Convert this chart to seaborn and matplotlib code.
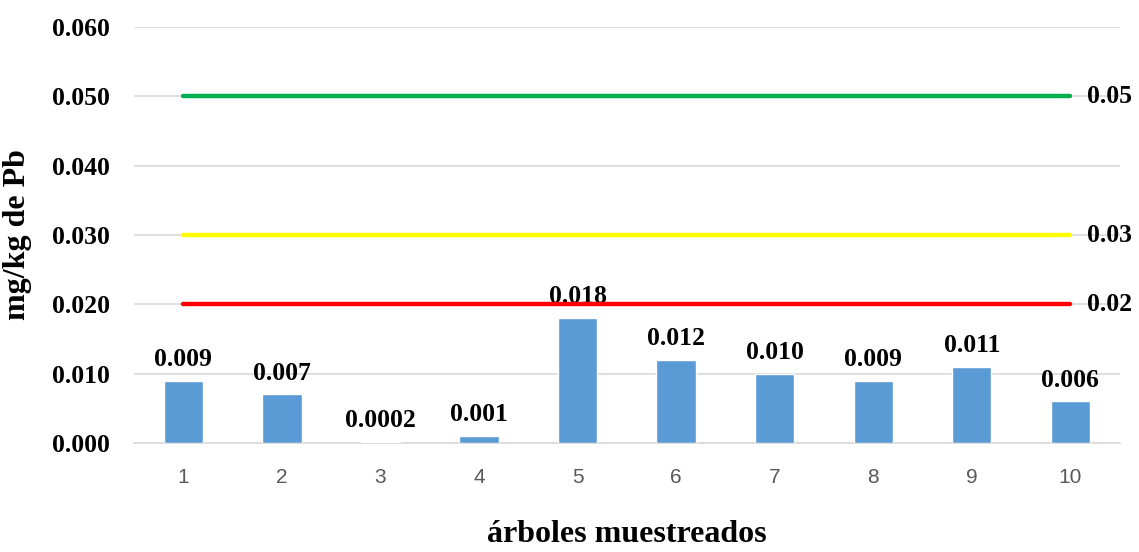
import pandas as pd
import seaborn as sns
import matplotlib.pyplot as plt

trees = ["1", "2", "3", "4", "5", "6", "7", "8", "9", "10"]
pb_values = [0.009, 0.007, 0.0002, 0.001, 0.018, 0.012, 0.010, 0.009, 0.011, 0.006]
pb_labels = ["0.009", "0.007", "0.0002", "0.001", "0.018",
             "0.012", "0.010", "0.009", "0.011", "0.006"]
limit_values = [0.05, 0.03, 0.02]
limit_labels = ["0.05", "0.03", "0.02"]
limit_colors = ["#00B050", "#FFFF00", "#FF0000"]
y_ticks = [0.0, 0.01, 0.02, 0.03, 0.04, 0.05, 0.06]

df = pd.DataFrame({"arbol": trees, "pb": pb_values})

sns.set_theme(style="white")
plt.rcParams["font.family"] = ["Liberation Serif", "DejaVu Serif"]
plt.rcParams["text.color"] = "black"
plt.rcParams["axes.labelcolor"] = "black"
plt.rcParams["ytick.color"] = "black"

fig = plt.figure(figsize=(11.39, 5.52), dpi=100)
ax = fig.add_axes([0.1176, 0.1975, 0.8654, 0.7535])

sns.barplot(x="arbol", y="pb", data=df, color="#5B9BD5", width=0.4,
            saturation=1, ax=ax, zorder=3)

for p, lab in zip(ax.patches, pb_labels):
    ax.annotate(lab, (p.get_x() + p.get_width() / 2.0, p.get_height()),
                xytext=(0, 7), textcoords="offset points",
                ha="center", va="bottom", fontsize=18.5, fontweight="bold")

last = len(trees) - 1
for v, lab, c in zip(limit_values, limit_labels, limit_colors):
    ax.plot([0, last], [v, v], color=c, lw=3.2, solid_capstyle="round", zorder=4)
    ax.annotate(lab, (last, v), xytext=(12, 0), textcoords="offset points",
                ha="left", va="center", fontsize=18.5, fontweight="bold",
                annotation_clip=False)

ax.set_xlim(-0.5, len(trees) - 0.5)
ax.set_ylim(0, 0.06)
ax.set_yticks(y_ticks)
ax.set_yticklabels([f"{t:.3f}" for t in y_ticks], fontsize=18.5, fontweight="bold")
ax.tick_params(axis="y", length=0, pad=17)
ax.tick_params(axis="x", length=0, pad=18)
for t in ax.get_xticklabels():
    t.set_fontfamily("Liberation Sans")
    t.set_fontsize(15)
    t.set_color("#595959")

ax.yaxis.grid(True, color="#D9D9D9", lw=1.2, zorder=0)
ax.set_axisbelow(True)
for s in ["top", "right", "left"]:
    ax.spines[s].set_visible(False)
ax.spines["bottom"].set_color("#D9D9D9")
ax.spines["bottom"].set_linewidth(1.2)

ax.set_xlabel("árboles muestreados", fontsize=23, fontweight="bold")
ax.set_ylabel("mg/kg de Pb", fontsize=23, fontweight="bold")
ax.xaxis.set_label_coords(0.5, -0.186)
ax.yaxis.set_label_coords(-0.103, 0.5)

fig.savefig("out.png", dpi=100)
